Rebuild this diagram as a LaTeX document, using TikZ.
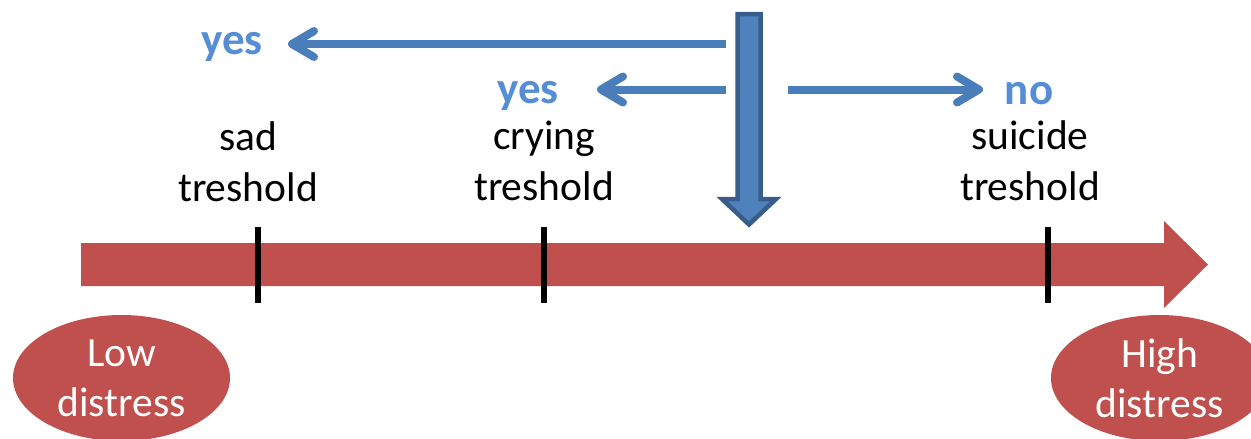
\documentclass[tikz,border=0pt]{standalone}
\usepackage{fontspec}
\setmainfont{Carlito}
\usetikzlibrary{arrows.meta,shapes.geometric}

\definecolor{distred}{HTML}{C0504D}
\definecolor{pushfill}{HTML}{4F81BD}
\definecolor{pushedge}{HTML}{385D8A}
\definecolor{answerblue}{HTML}{558ED5}
\definecolor{linkblue}{HTML}{4A7EBB}

\begin{document}
\begin{tikzpicture}[x=1pt,y=-1pt,
  % base anchor of a two-line label sits on its second line
  thresholdlabel/.style={font=\fontsize{41.5}{51}\selectfont, align=center,
    inner sep=0pt, anchor=base},
  answer/.style={font=\fontsize{45}{54}\selectfont\bfseries, text=answerblue,
    inner sep=0pt, anchor=base},
  endpoint/.style={ellipse, fill=distred, minimum width=217pt,
    minimum height=126pt, inner sep=0pt, text=white, align=center,
    font=\fontsize{41.5}{50}\selectfont},
  tickmark/.style={line width=6pt, black},
  decision/.style={draw=linkblue, line width=8pt,
    -{Straight Barb[round,length=22pt,width=26pt]}},
  distressbar/.style={fill=distred},
  push/.style={fill=pushfill, draw=pushedge, line width=4.5pt, line join=miter}
]
\useasboundingbox (0,0) rectangle (1251,439);
\clip (0,0) rectangle (1251,439);

% distress scale
\fill[distressbar] (81,243) -- (1164,243) -- (1164,221) -- (1208,264.5)
  -- (1164,308) -- (1164,286) -- (81,286) -- cycle;

% threshold ticks
\coordinate (sadtop) at (258,227);   \coordinate (sadbot) at (258,303);
\coordinate (crytop) at (544,227);   \coordinate (crybot) at (544,303);
\coordinate (suitop) at (1048,227);  \coordinate (suibot) at (1048,303);
\draw[tickmark] (sadtop) -- (sadbot);
\draw[tickmark] (crytop) -- (crybot);
\draw[tickmark] (suitop) -- (suibot);

% threshold labels
\node[thresholdlabel] (sad) at (248,201) {sad\\treshold};
\node[thresholdlabel] (crying) at (544,200.5) {crying\\treshold};
\node[thresholdlabel] (suicide) at (1030,200.5) {suicide\\treshold};

% ends of the scale
\node[endpoint] (low) at (121.5,378) {Low\\distress};
\node[endpoint] (high) at (1159.5,378) {High\\distress};

% current distress level pushing down
\draw[push] (737.5,14) -- (760.5,14) -- (760.5,199) -- (776,199)
  -- (749,224.5) -- (722,199) -- (737.5,199) -- cycle;

% answers
\node[answer] (yessad) at (232,54) {yes};
\node[answer] (yescry) at (528,103.5) {yes};
\node[answer] (nosui) at (1029,104) {no};

\coordinate (fromsad) at (726,44);   \coordinate (tosad) at (288,44);
\coordinate (fromcry) at (726,89.5); \coordinate (tocry) at (597,89.5);
\coordinate (fromsui) at (788,89.5); \coordinate (tosui) at (983,89.5);
\draw[decision] (fromsad) -- (tosad);
\draw[decision] (fromcry) -- (tocry);
\draw[decision] (fromsui) -- (tosui);
\end{tikzpicture}
\end{document}
